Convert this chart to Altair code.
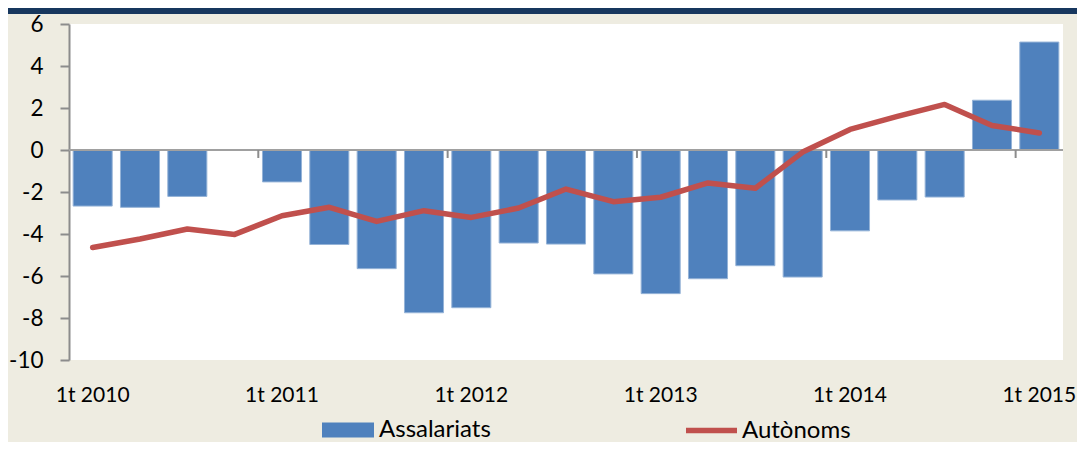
import altair as alt
import pandas as pd

quarters = ["1t 2010", "2t 2010", "3t 2010", "4t 2010",
            "1t 2011", "2t 2011", "3t 2011", "4t 2011",
            "1t 2012", "2t 2012", "3t 2012", "4t 2012",
            "1t 2013", "2t 2013", "3t 2013", "4t 2013",
            "1t 2014", "2t 2014", "3t 2014", "4t 2014",
            "1t 2015"]
assalariats = [-2.67, -2.73, -2.21, None,
               -1.52, -4.50, -5.65, -7.75,
               -7.51, -4.43, -4.48, -5.90,
               -6.84, -6.13, -5.51, -6.05,
               -3.85, -2.38, -2.24, 2.37,
               5.14]
autonoms = [-4.64, -4.24, -3.76, -4.02,
            -3.13, -2.73, -3.40, -2.89,
            -3.21, -2.76, -1.86, -2.46,
            -2.25, -1.57, -1.82, -0.10,
            0.98, 1.60, 2.17, 1.17,
            0.81]
series_names = ["Assalariats", "Autònoms"]
y_ticks = [-10, -8, -6, -4, -2, 0, 2, 4, 6]

FONT = "Lato"
BLUE = "#4F81BD"
RED = "#C0504D"
GRAY = "#8C8C8C"
BG = "#EEECE1"
NAVY = "#17375E"

bars_df = pd.DataFrame({"q": quarters, "v": assalariats, "s": series_names[0]})
line_df = pd.DataFrame({"q": quarters, "v": autonoms, "s": series_names[1]})
tick_df = pd.DataFrame({"q": [q for q in quarters if q.startswith("1t") and q != quarters[0]]})

W, H = 994, 336
PAD_L = 61

x_enc = alt.X("q:N", sort=quarters,
              scale=alt.Scale(domain=quarters, paddingInner=0.175, paddingOuter=0.0875),
              axis=alt.Axis(title=None, labelExpr="indexof(datum.label, '1t') == 0 ? datum.label : ''",
                            labelAngle=0, domain=False, ticks=False, labelPadding=24,
                            labelFontSize=21, labelFont=FONT, labelColor="black",
                            labelOverlap=False, labelFlush=False, grid=False))
y_scale = alt.Scale(domain=[-10, 6], nice=False, zero=False)
y_axis = alt.Axis(title=None, values=y_ticks, grid=False, domainColor=GRAY, domainWidth=2,
                  tickColor=GRAY, tickWidth=2, tickSize=9, labelPadding=17,
                  labelExpr="toString(datum.value)",
                  labelFontSize=22.5, labelFont=FONT, labelColor="black")

bars = alt.Chart(bars_df).mark_bar(stroke="#95B3D7", strokeWidth=1).encode(
    x=x_enc,
    y=alt.Y("v:Q", scale=y_scale, axis=y_axis),
    fill=alt.Fill("s:N", scale=alt.Scale(domain=[series_names[0]], range=[BLUE]),
                  legend=alt.Legend(title=None, orient="none", legendX=253, legendY=380,
                                    symbolType="M-1,-0.288L1,-0.288L1,0.288L-1,0.288Z",
                                    symbolSize=2704, symbolStrokeWidth=0, symbolOpacity=1,
                                    labelFontSize=24, labelFont=FONT, labelColor="black",
                                    labelOffset=5, padding=0)),
)

zero_rule = alt.Chart(bars_df).mark_rule(color="#A0A0A0", strokeWidth=2).encode(
    y=alt.datum(0)
)

x_ticks = alt.Chart(tick_df).mark_rule(color=GRAY, strokeWidth=2, xOffset=-23.7).encode(
    x=alt.X("q:N", sort=quarters),
    y=alt.datum(0),
    y2=alt.datum(-0.38),
)

line = alt.Chart(line_df).mark_line(strokeWidth=5.5, strokeCap="round", strokeJoin="round").encode(
    x=alt.X("q:N", sort=quarters),
    y=alt.Y("v:Q"),
    stroke=alt.Stroke("s:N", scale=alt.Scale(domain=[series_names[1]], range=[RED]),
                      legend=alt.Legend(title=None, orient="none", legendX=614, legendY=378,
                                        symbolType="stroke", symbolSize=2601,
                                        symbolStrokeWidth=5.5, labelFontSize=24,
                                        labelFont=FONT, labelColor="black",
                                        labelOffset=2, padding=0)),
)

strip = alt.Chart(bars_df).mark_rule(color=NAVY, strokeWidth=6).encode(
    x=alt.value(-PAD_L), x2=alt.value(1010), y=alt.value(-13)
)

chart = alt.layer(bars, zero_rule, x_ticks, line, strip).resolve_scale(
    fill="independent", stroke="independent"
).properties(
    width=W, height=H,
    background=BG,
    padding={"left": PAD_L, "top": 16, "right": 14, "bottom": 82},
    autosize=alt.AutoSizeParams(type="none"),
).configure_view(fill="white", stroke=None)

chart.save("out.html", embed_options={"renderer": "svg", "actions": False})
